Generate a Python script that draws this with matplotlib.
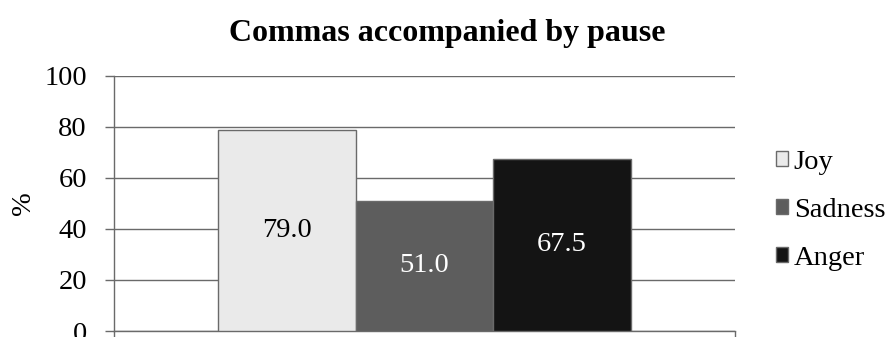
import matplotlib
matplotlib.use("Agg")
import matplotlib.pyplot as plt
from matplotlib.patches import Patch

# Share of commas accompanied by a pause, per emotion
emotions = ["Joy", "Sadness", "Anger"]
values = [79.0, 51.0, 67.5]
colors = ["#eaeaea", "#5d5d5d", "#141414"]
label_colors = ["#000000", "#ffffff", "#ffffff"]
yticks = [0, 20, 40, 60, 80, 100]

plt.rcParams["font.family"] = ["Liberation Serif", "DejaVu Serif"]
FS = 20.5
GRAY = "#6a6a6a"

fig = plt.figure(figsize=(8.94, 3.37), dpi=100)
ax = fig.add_axes([0.1275, 0.0178, 0.6946, 0.7567])

width = 0.2214
offsets = [-width, 0.0, width]
for off, val, col, lc in zip(offsets, values, colors, label_colors):
    ax.bar(off, val, width=width, color=col, edgecolor=GRAY,
           linewidth=1.0, zorder=3)
    ax.text(off, val / 2, f"{val:.1f}", ha="center", va="center",
            fontsize=FS, color=lc, zorder=4)

ax.set_xlim(-0.5, 0.5)
ax.set_ylim(0, 100)
ax.set_yticks(yticks)
ax.set_xticks([-0.5, 0.5])
ax.set_xticklabels([])
ax.tick_params(axis="y", labelsize=FS, length=6.5, width=1.0,
               color=GRAY, pad=13)
ax.tick_params(axis="x", length=5, width=1.0, color=GRAY)
ax.yaxis.grid(True, color=GRAY, linewidth=1.0, zorder=0)
ax.set_axisbelow(True)
for side in ("top", "right"):
    ax.spines[side].set_visible(False)
for side in ("left", "bottom"):
    ax.spines[side].set_color(GRAY)
    ax.spines[side].set_linewidth(1.0)

ax.set_ylabel("%", fontsize=FS, labelpad=6)
fig.text(0.5, 0.9, "Commas accompanied by pause", ha="center",
         va="center", fontsize=23, fontweight="bold")

handles = [Patch(facecolor=c, edgecolor=GRAY, linewidth=1.0) for c in colors]
fig.legend(handles, emotions, loc="upper left",
           bbox_to_anchor=(776 / 894, 1 - 150 / 337),
           bbox_transform=fig.transFigure,
           frameon=False, fontsize=FS, handlelength=0.42, handleheight=0.42,
           handletextpad=0.2, labelspacing=0.8, borderaxespad=0, borderpad=0)

fig.savefig("out.png", dpi=100)
